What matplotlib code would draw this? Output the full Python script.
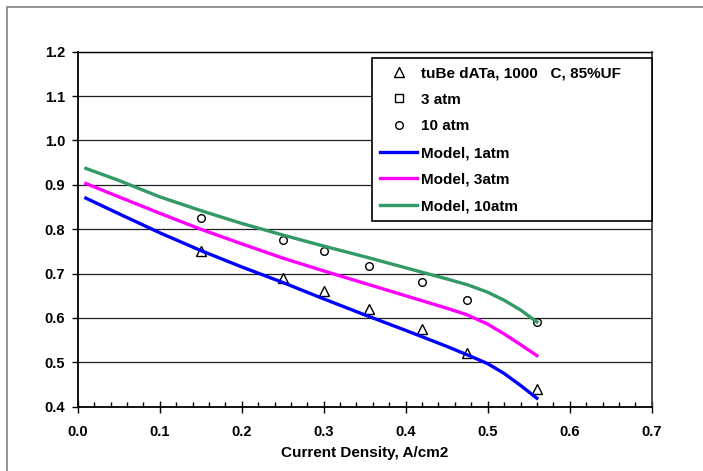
import matplotlib
matplotlib.use("Agg")
import matplotlib.pyplot as plt
from matplotlib.patches import Rectangle
from matplotlib.ticker import MultipleLocator

plt.rcParams['font.family'] = ['Liberation Sans', 'DejaVu Sans']
plt.rcParams['font.weight'] = 'bold'

# Measured data
data_x = [0.15, 0.25, 0.30, 0.355, 0.42, 0.475, 0.56]
tube_1atm = [0.751, 0.691, 0.660, 0.620, 0.575, 0.520, 0.440]
data_3atm_x = []
data_3atm_y = []
data_10atm = [0.825, 0.776, 0.750, 0.716, 0.680, 0.640, 0.590]

# Model curves
model_x = [0.01, 0.05, 0.10, 0.15, 0.20, 0.25, 0.30, 0.35, 0.40, 0.45, 0.475, 0.50, 0.52, 0.54, 0.56]
model_1atm = [0.870, 0.835, 0.792, 0.752, 0.715, 0.680, 0.643, 0.607, 0.572, 0.536, 0.517, 0.497, 0.475, 0.448, 0.419]
model_3atm = [0.903, 0.873, 0.836, 0.800, 0.767, 0.735, 0.706, 0.678, 0.650, 0.622, 0.607, 0.586, 0.564, 0.540, 0.515]
model_10atm = [0.937, 0.910, 0.873, 0.842, 0.813, 0.787, 0.762, 0.738, 0.713, 0.688, 0.675, 0.658, 0.640, 0.618, 0.591]

labels = ["tuBe dATa, 1000   C, 85%UF", "3 atm", "10 atm", "Model, 1atm", "Model, 3atm", "Model, 10atm"]
xticks = [0.0, 0.1, 0.2, 0.3, 0.4, 0.5, 0.6, 0.7]
yticks = [0.4, 0.5, 0.6, 0.7, 0.8, 0.9, 1.0, 1.1, 1.2]

W, H = 703, 471
fig = plt.figure(figsize=(W / 100, H / 100), dpi=100)
ax = fig.add_axes([77.7 / W, 1 - 406.7 / H, (651.7 - 77.7) / W, (406.7 - 51.7) / H])

h1, = ax.plot(data_x, tube_1atm, linestyle='none', marker='^', markersize=6.5,
              markerfacecolor='none', markeredgecolor='black', markeredgewidth=1.0, zorder=2, label=labels[0])
h2, = ax.plot(data_3atm_x, data_3atm_y, linestyle='none', marker='s', markersize=5.5,
              markerfacecolor='none', markeredgecolor='black', markeredgewidth=1.0, zorder=2, label=labels[1])
h3, = ax.plot(data_x, data_10atm, linestyle='none', marker='o', markersize=5.5,
              markerfacecolor='none', markeredgecolor='black', markeredgewidth=1.0, zorder=2, label=labels[2])
h4, = ax.plot(model_x, model_1atm, color='#0000FF', lw=2.4, zorder=3, label=labels[3])
h5, = ax.plot(model_x, model_3atm, color='#FF00FF', lw=2.4, zorder=3, label=labels[4])
h6, = ax.plot(model_x, model_10atm, color='#339966', lw=2.4, zorder=3, label=labels[5])

ax.set_xlim(0, 0.7)
ax.set_ylim(0.4, 1.2)
ax.set_xticks(xticks)
ax.set_xticklabels([f"{v:.1f}" for v in xticks])
ax.set_yticks(yticks)
ax.set_yticklabels([f"{v:.1f}" for v in yticks])
ax.xaxis.set_minor_locator(MultipleLocator(0.02))

ax.tick_params(axis='x', which='major', direction='inout', length=8, width=1, pad=9, labelsize=10.5)
ax.tick_params(axis='x', which='minor', direction='in', length=3.5, width=1)
ax.tick_params(axis='y', which='major', direction='out', length=4, width=1, pad=5, labelsize=10.5)
for lab in ax.get_xticklabels() + ax.get_yticklabels():
    lab.set_fontweight('bold')

ax.grid(axis='y', color='#202020', lw=0.9, zorder=1)
ax.set_axisbelow(True)
for s in ['left', 'bottom', 'top']:
    ax.spines[s].set_color('black')
    ax.spines[s].set_linewidth(1.3)
ax.spines['top'].set_linewidth(1.0)
ax.spines['right'].set_color('#404040')
ax.spines['right'].set_linewidth(1.3)

ax.set_xlabel("Current Density, A/cm2", fontsize=11, fontweight='bold', labelpad=5)

leg = ax.legend(handles=[h1, h2, h3, h4, h5, h6], loc='upper left',
                bbox_to_anchor=(0.513, 0.526, 0.4875, 0.455), mode='expand', borderaxespad=0,
                prop={'weight': 'bold', 'size': 11}, frameon=True, fancybox=False,
                edgecolor='black', handlelength=2.45, handletextpad=0.25, labelspacing=0.83,
                borderpad=0.5, framealpha=1)
leg.get_frame().set_linewidth(1.2)

fig.patches.append(Rectangle((7 / W, -0.1), 1.1, 1 - 7 / H + 0.1, transform=fig.transFigure,
                             fill=False, edgecolor='#808080', lw=1.2))

fig.savefig("out.png", dpi=100)
